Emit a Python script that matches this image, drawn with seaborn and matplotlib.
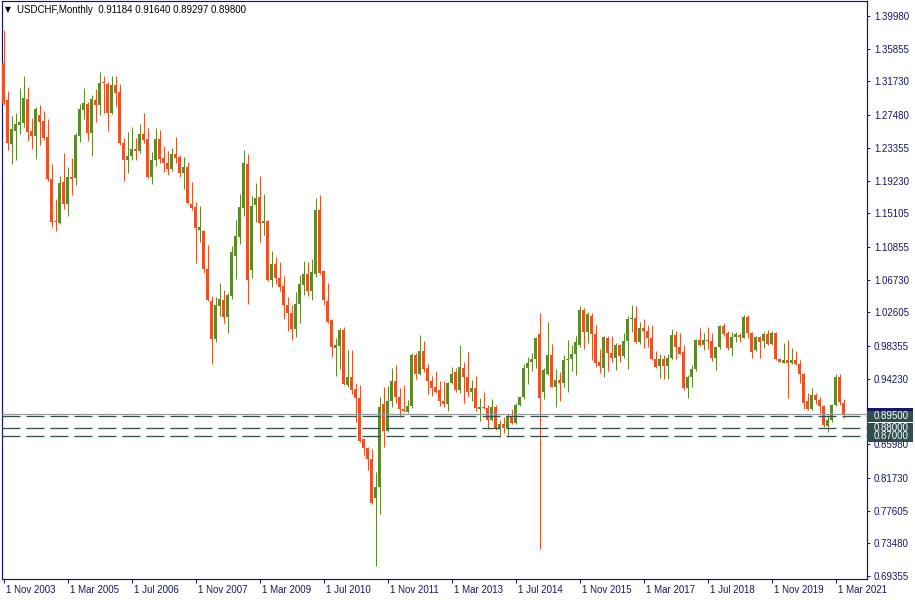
import matplotlib
matplotlib.use("Agg")
import matplotlib.pyplot as plt
import matplotlib.transforms as mtransforms
from matplotlib.patches import Rectangle
import numpy as np
import pandas as pd
import seaborn as sns

# ---------------- data (USDCHF monthly, Nov 2003 .. May 2021) ----------------
opens = [
    1.3402, 1.2939, 1.2384, 1.2552, 1.2627, 1.2653, 1.2951, 1.2548, 1.2489, 1.2750,
    1.2674, 1.2472, 1.1942, 1.1413, 1.1391, 1.1905, 1.1631, 1.1968, 1.1959, 1.2489,
    1.2817, 1.2892, 1.2526, 1.2939, 1.2880, 1.3157, 1.3141, 1.2771, 1.3128, 1.3040,
    1.2393, 1.2182, 1.2233, 1.2321, 1.2299, 1.2510, 1.2447, 1.1972, 1.2182, 1.2447,
    1.2207, 1.2144, 1.2069, 1.2258, 1.2220, 1.2014, 1.2090, 1.1627, 1.1589, 1.1299,
    1.1290, 1.0807, 1.0404, 0.9925, 1.0345, 1.0416, 1.0206, 1.0471, 1.0975, 1.1215,
    1.1581, 1.2132, 1.0795, 1.1615, 1.1715, 1.1391, 1.1417, 1.0669, 1.0870, 1.0690,
    1.0593, 1.0357, 1.0256, 1.0054, 1.0366, 1.0606, 1.0744, 1.0534, 1.0744, 1.1552,
    1.0782, 1.0404, 1.0164, 0.9815, 0.9830, 1.0038, 0.9348, 0.9449, 0.9294, 0.9184,
    0.8663, 0.8546, 0.8407, 0.7923, 0.8054, 0.9105, 0.8768, 0.9142, 0.9395, 0.9197,
    0.9042, 0.9008, 0.9080, 0.9723, 0.9483, 0.9773, 0.9555, 0.9399, 0.9323, 0.9281,
    0.9142, 0.9101, 0.9373, 0.9505, 0.9281, 0.9555, 0.9449, 0.9260, 0.9303, 0.9046,
    0.9063, 0.9055, 0.8905, 0.9063, 0.8798, 0.8852, 0.8798, 0.8945, 0.8869, 0.9092,
    0.9189, 0.9555, 0.9638, 0.9672, 0.9988, 0.9260, 0.9483, 0.9723, 0.9323, 0.9408,
    0.9366, 0.9660, 0.9678, 0.9736, 0.9849, 1.0290, 1.0017, 1.0215, 0.9984, 0.9629,
    0.9563, 0.9933, 0.9752, 0.9689, 0.9849, 0.9710, 0.9901, 1.0177, 1.0193, 0.9892,
    1.0059, 1.0025, 0.9941, 0.9672, 0.9584, 0.9668, 0.9584, 0.9681, 0.9975, 0.9828,
    0.9757, 0.9303, 0.9441, 0.9546, 0.9912, 0.9849, 0.9912, 0.9900, 0.9689, 0.9820,
    1.0089, 0.9998, 0.9815, 0.9954, 0.9975, 0.9941, 1.0198, 1.0004, 0.9786, 0.9946,
    0.9903, 0.9988, 0.9862, 1.0004, 0.9672, 0.9626, 0.9660, 0.9618, 0.9660, 0.9609,
    0.9483, 0.9146, 0.9038, 0.9218, 0.9155, 0.9083, 0.8827, 0.8905, 0.9092, 0.9449,
    0.91184,
]
highs = [
    1.3822, 1.3052, 1.2737, 1.2771, 1.3086, 1.3241, 1.3099, 1.2716, 1.2847, 1.2876,
    1.2804, 1.2699, 1.2132, 1.1690, 1.1984, 1.2270, 1.2094, 1.2207, 1.2519, 1.2888,
    1.3090, 1.2917, 1.3002, 1.3078, 1.3296, 1.3241, 1.3170, 1.3241, 1.3241, 1.3141,
    1.2456, 1.2539, 1.2602, 1.2460, 1.2636, 1.2779, 1.2582, 1.2279, 1.2582, 1.2560,
    1.2359, 1.2296, 1.2333, 1.2472, 1.2245, 1.2220, 1.2157, 1.1908, 1.1652, 1.1602,
    1.1305, 1.1110, 1.0467, 1.0458, 1.0627, 1.0543, 1.0509, 1.1097, 1.1425, 1.1753,
    1.2308, 1.2258, 1.1728, 1.1896, 1.1980, 1.1753, 1.1425, 1.1034, 1.0963, 1.0899,
    1.0719, 1.0458, 1.0350, 1.0521, 1.0732, 1.0912, 1.0899, 1.0937, 1.1707, 1.1741,
    1.0795, 1.0635, 1.0173, 0.9933, 1.0059, 1.0080, 0.9786, 0.9786, 0.9366, 0.9344,
    0.8680, 0.8566, 0.8537, 0.8243, 0.9189, 0.9315, 0.9332, 0.9555, 0.9597, 0.9303,
    0.9344, 0.9155, 0.9752, 0.9752, 0.9975, 0.9899, 0.9609, 0.9458, 0.9521, 0.9395,
    0.9395, 0.9386, 0.9575, 0.9555, 0.9849, 0.9631, 0.9764, 0.9408, 0.9458, 0.9177,
    0.9260, 0.9092, 0.9164, 0.9092, 0.8905, 0.8945, 0.8980, 0.9038, 0.9113, 0.9195,
    0.9609, 0.9701, 0.9752, 0.9954, 1.0256, 0.9555, 1.0143, 0.9863, 0.9546, 0.9505,
    0.9723, 0.9914, 0.9849, 0.9964, 1.0341, 1.0312, 1.0265, 1.0256, 1.0101, 0.9798,
    0.9964, 0.9964, 0.9964, 0.9878, 0.9866, 0.9998, 1.0215, 1.0353, 1.0341, 1.0143,
    1.0177, 1.0101, 1.0101, 0.9777, 0.9736, 0.9723, 0.9736, 1.0051, 1.0029, 0.9998,
    0.9849, 0.9471, 0.9597, 0.9921, 1.0059, 0.9998, 1.0072, 0.9998, 0.9825, 1.0101,
    1.0130, 1.0025, 1.0017, 1.0017, 1.0004, 1.0227, 1.0227, 1.0010, 0.9964, 0.9964,
    1.0017, 1.0038, 1.0025, 1.0010, 0.9680, 0.9870, 0.9912, 0.9807, 0.9777, 0.9660,
    0.9492, 0.9247, 0.9303, 0.9247, 0.9189, 0.9092, 0.8966, 0.9105, 0.9479, 0.9479,
    0.91640,
]
lows = [
    1.2876, 1.2308, 1.2132, 1.2182, 1.2510, 1.2602, 1.2426, 1.2321, 1.2195, 1.2371,
    1.2434, 1.1921, 1.1333, 1.1290, 1.1375, 1.1564, 1.1480, 1.1741, 1.1867, 1.2405,
    1.2699, 1.2426, 1.2233, 1.2665, 1.2750, 1.2779, 1.2552, 1.2762, 1.2867, 1.2371,
    1.1921, 1.2014, 1.2182, 1.2182, 1.2274, 1.2400, 1.1951, 1.1879, 1.2106, 1.2148,
    1.2035, 1.1993, 1.2043, 1.2148, 1.1964, 1.1813, 1.1623, 1.1555, 1.0887, 1.1152,
    1.0761, 1.0404, 0.9609, 0.9883, 1.0218, 1.0130, 1.0004, 1.0429, 1.0681, 1.1123,
    1.1476, 1.0366, 1.0698, 1.1404, 1.1152, 1.1236, 1.0660, 1.0584, 1.0618, 1.0534,
    1.0177, 1.0029, 0.9912, 0.9953, 1.0130, 1.0480, 1.0471, 1.0416, 1.0703, 1.0744,
    1.0353, 1.0123, 0.9701, 0.9462, 0.9546, 0.9340, 0.9315, 0.9231, 0.8882, 0.8629,
    0.8462, 0.8272, 0.7844, 0.7062, 0.7714, 0.8566, 0.8751, 0.9071, 0.9121, 0.8937,
    0.9008, 0.8995, 0.9050, 0.9420, 0.9470, 0.9512, 0.9231, 0.9206, 0.9247, 0.9080,
    0.9071, 0.9020, 0.9353, 0.9252, 0.9247, 0.9121, 0.9197, 0.9146, 0.9020, 0.8894,
    0.9038, 0.8786, 0.8894, 0.8777, 0.8692, 0.8735, 0.8692, 0.8852, 0.8852, 0.9075,
    0.9170, 0.9357, 0.9525, 0.9555, 0.7276, 0.9170, 0.9471, 0.9315, 0.9071, 0.9146,
    0.9323, 0.9260, 0.9525, 0.9471, 0.9828, 0.9795, 0.9878, 0.9660, 0.9575, 0.9500,
    0.9449, 0.9525, 0.9638, 0.9534, 0.9638, 0.9681, 0.9546, 1.0017, 0.9870, 0.9862,
    0.9815, 0.9828, 0.9660, 0.9555, 0.9429, 0.9420, 0.9420, 0.9668, 0.9668, 0.9731,
    0.9281, 0.9184, 0.9315, 0.9525, 0.9838, 0.9786, 0.9795, 0.9647, 0.9534, 0.9800,
    0.9968, 0.9786, 0.9714, 0.9892, 0.9892, 0.9933, 0.9933, 0.9689, 0.9777, 0.9689,
    0.9807, 0.9849, 0.9849, 0.9660, 0.9630, 0.9618, 0.9184, 0.9610, 0.9597, 0.9373,
    0.9038, 0.9029, 0.9029, 0.9105, 0.8988, 0.8818, 0.8756, 0.8881, 0.9080, 0.9092,
    0.89297,
]
closes = [
    1.2897, 1.2393, 1.2573, 1.2636, 1.2661, 1.2964, 1.2539, 1.2485, 1.2825, 1.2665,
    1.2463, 1.1942, 1.1404, 1.1400, 1.1896, 1.1631, 1.1968, 1.1946, 1.2497, 1.2825,
    1.2901, 1.2526, 1.2951, 1.2880, 1.3157, 1.3149, 1.2779, 1.3128, 1.3031, 1.2400,
    1.2182, 1.2233, 1.2321, 1.2299, 1.2510, 1.2434, 1.1972, 1.2182, 1.2447, 1.2195,
    1.2148, 1.2069, 1.2258, 1.2211, 1.2014, 1.2090, 1.1644, 1.1581, 1.1328, 1.1336,
    1.0807, 1.0416, 0.9925, 1.0353, 1.0429, 1.0206, 1.0480, 1.1026, 1.1224, 1.1593,
    1.2148, 1.0669, 1.1606, 1.1707, 1.1391, 1.1417, 1.0669, 1.0870, 1.0690, 1.0584,
    1.0357, 1.0256, 1.0054, 1.0366, 1.0622, 1.0744, 1.0534, 1.0770, 1.1552, 1.0761,
    1.0416, 1.0135, 0.9827, 0.9849, 1.0038, 0.9357, 0.9449, 0.9281, 0.9184, 0.8638,
    0.8546, 0.8407, 0.7852, 0.8054, 0.9063, 0.8768, 0.9142, 0.9395, 0.9197, 0.9042,
    0.9020, 0.9080, 0.9723, 0.9483, 0.9773, 0.9546, 0.9399, 0.9310, 0.9260, 0.9142,
    0.9101, 0.9373, 0.9479, 0.9281, 0.9568, 0.9449, 0.9260, 0.9303, 0.9050, 0.9063,
    0.9055, 0.8905, 0.9063, 0.8786, 0.8852, 0.8798, 0.8957, 0.8869, 0.9092, 0.9189,
    0.9555, 0.9626, 0.9672, 0.9941, 0.9184, 0.9534, 0.9723, 0.9323, 0.9408, 0.9366,
    0.9660, 0.9678, 0.9736, 0.9892, 1.0290, 1.0017, 1.0240, 0.9984, 0.9618, 0.9588,
    0.9946, 0.9752, 0.9689, 0.9849, 0.9710, 0.9901, 1.0177, 1.0193, 0.9892, 1.0059,
    1.0025, 0.9941, 0.9672, 0.9575, 0.9668, 0.9584, 0.9681, 0.9975, 0.9828, 0.9736,
    0.9303, 0.9441, 0.9546, 0.9912, 0.9849, 0.9912, 0.9900, 0.9689, 0.9820, 1.0089,
    0.9984, 0.9815, 0.9954, 0.9988, 0.9954, 1.0198, 1.0004, 0.9764, 0.9946, 0.9883,
    0.9988, 0.9862, 1.0004, 0.9672, 0.9638, 0.9660, 0.9618, 0.9660, 0.9609, 0.9483,
    0.9121, 0.9038, 0.9218, 0.9155, 0.9083, 0.8840, 0.8905, 0.9092, 0.9449, 0.9126,
    0.89800,
]

date_labels = ["1 Nov 2003", "1 Mar 2005", "1 Jul 2006", "1 Nov 2007", "1 Mar 2009",
               "1 Jul 2010", "1 Nov 2011", "1 Mar 2013", "1 Jul 2014", "1 Nov 2015",
               "1 Mar 2017", "1 Jul 2018", "1 Nov 2019", "1 Mar 2021"]
price_ticks = [1.39980, 1.35855, 1.31730, 1.27480, 1.23355, 1.19230, 1.15105, 1.10855,
               1.06730, 1.02605, 0.98355, 0.94230, 0.85980, 0.81730, 0.77605, 0.73480,
               0.69355]
level_lines = [0.89500, 0.88000, 0.87000]
bid_price = 0.89800
header = "USDCHF,Monthly  0.91184 0.91640 0.89297 0.89800"

# ---------------- style ----------------
sns.set_style("white")
plt.rcParams["font.family"] = ["Liberation Sans", "DejaVu Sans"]
plt.rcParams["lines.scale_dashes"] = False

BULL = "#5c8c2a"
BEAR = "#f34f24"
NAVY = "#16166b"
SLATE = "#2f4f4f"

df = pd.DataFrame({"o": opens, "h": highs, "l": lows, "c": closes})
df["idx"] = np.arange(len(df))
df["color"] = np.where(df["c"] >= df["o"], BULL, BEAR)

W, H = 915, 600
PX = 0.72  # one pixel in points
fig = plt.figure(figsize=(W / 100, H / 100), dpi=100)
fig.patch.set_facecolor("white")
L, R, T, B = 2, 867, 1, 579
ax = fig.add_axes([L / W, 1 - B / H, (R - L) / W, (B - T) / H])
ax.set_facecolor("white")

# y scale: 1.39980 at pixel 16, 0.69355 at pixel 576
ppx = (1.39980 - 0.69355) / 560.0
ax.set_ylim(1.39980 - (B - 16) * ppx, 1.39980 + (16 - T) * ppx)
# x: candle k centred at pixel 3.5 + 4k
ax.set_xlim((L - 3.5) / 4.0, (R - 3.5) / 4.0)

# wicks
ax.vlines(df["idx"], df["l"], df["h"], colors=df["color"], linewidth=PX, zorder=2)
# bodies
body_low = np.minimum(df["o"], df["c"])
body_h = np.maximum(np.abs(df["c"] - df["o"]), ppx)
ax.bar(df["idx"], body_h, bottom=body_low, width=0.75, color=df["color"],
       linewidth=0, zorder=3)

# bid line and level lines
ax.axhline(bid_price, color="#9a9a9a", linewidth=PX * 1.2, zorder=4)
for v in level_lines:
    ax.axhline(v, color=SLATE, linewidth=PX * 1.3, dashes=(18 * PX, 6 * PX), zorder=4)

# axes frame
for s in ax.spines.values():
    s.set_color(NAVY)
    s.set_linewidth(PX * 1.2)
    s.set_visible(True)

# x ticks
xt = list(range(0, 16 * len(date_labels), 16))
ax.set_xticks(xt)
ax.set_xticklabels(date_labels)
ax.tick_params(axis="x", direction="out", length=4 * PX, width=PX, colors=NAVY,
               labelsize=7, pad=2 * PX, bottom=True)
off = mtransforms.ScaledTranslation(2 / 100, 0, fig.dpi_scale_trans)
for lab in ax.get_xticklabels():
    lab.set_horizontalalignment("left")
    lab.set_transform(lab.get_transform() + off)
    lab.set_color(NAVY)

# y ticks on the right
ax.yaxis.tick_right()
ax.set_yticks(price_ticks)
ax.set_yticklabels([f"{v:.5f}" for v in price_ticks])
ax.tick_params(axis="y", direction="out", length=3 * PX, width=PX, colors=NAVY,
               labelsize=7, pad=4 * PX, right=True, left=False)
for lab in ax.get_yticklabels():
    lab.set_color(NAVY)
ax.grid(False)

# price labels in boxes on the right scale (each later box covers the previous one)
blend = mtransforms.blended_transform_factory(fig.transFigure, ax.transData)
box_h = 11 * ppx
ax.add_patch(Rectangle((R / W, bid_price - box_h / 2), 46 / W, box_h, transform=blend,
                       facecolor=NAVY, edgecolor="none", clip_on=False, zorder=5))
z = 6.0
for v in level_lines:
    ax.add_patch(Rectangle((R / W, v - box_h / 2), 46 / W, box_h, transform=blend,
                           facecolor=SLATE, edgecolor="none", clip_on=False, zorder=z))
    ax.text(874 / W, v, f"{v:.5f}", transform=blend, color="white", fontsize=7,
            va="center", ha="left", zorder=z + 0.1, clip_on=False)
    z += 0.2

# header
fig.text(5 / W, 1 - 10 / H, "\u25BC", fontsize=5.5, color="#000000", va="center",
         ha="left", family=["DejaVu Sans"])
fig.text(17 / W, 1 - 10 / H, header, fontsize=7, color="#000000", va="center", ha="left")

fig.savefig("out.png", dpi=100, facecolor="white")
